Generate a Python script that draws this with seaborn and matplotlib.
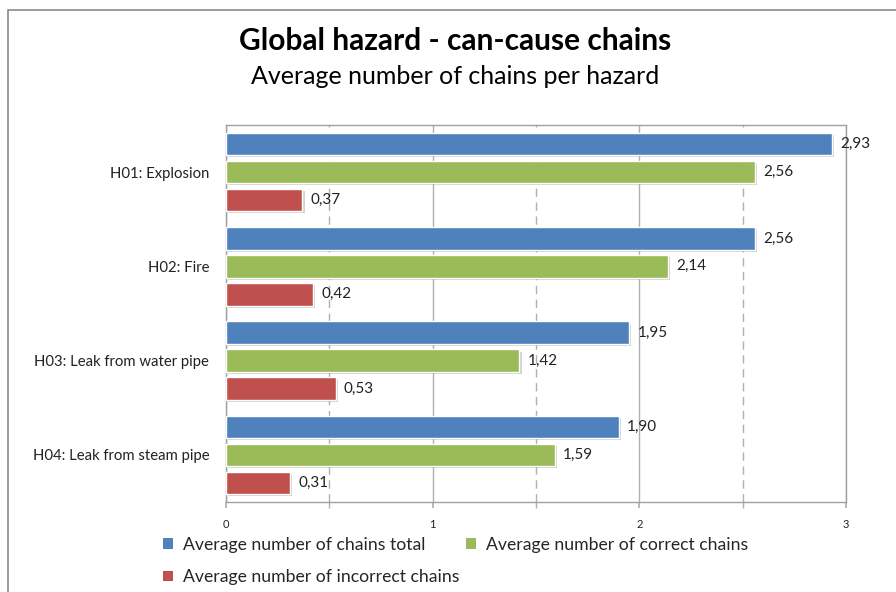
import matplotlib
matplotlib.use("Agg")
import matplotlib.pyplot as plt
import matplotlib.patheffects as pe
from matplotlib.patches import Patch, Rectangle
from matplotlib.ticker import MultipleLocator
import seaborn as sns
import pandas as pd

hazards = ["H01: Explosion", "H02: Fire", "H03: Leak from water pipe", "H04: Leak from steam pipe"]
series = ["Average number of chains total", "Average number of correct chains",
          "Average number of incorrect chains"]
total = [2.93, 2.56, 1.95, 1.90]
correct = [2.56, 2.14, 1.42, 1.59]
incorrect = [0.37, 0.42, 0.53, 0.31]
colors = ["#4F81BD", "#9BBB59", "#C0504D"]

rows = []
for name, vals in zip(series, [total, correct, incorrect]):
    for h, v in zip(hazards, vals):
        rows.append({"hazard": h, "series": name, "value": v})
df = pd.DataFrame(rows)

sns.set_theme(style="white")
plt.rcParams["font.family"] = ["Lato", "DejaVu Sans"]

fig = plt.figure(figsize=(8.96, 5.92), dpi=100)
ax = fig.add_axes([226 / 896, 1 - 502 / 592, 620 / 896, 377 / 592])

sns.barplot(data=df, y="hazard", x="value", hue="series", order=hazards,
            hue_order=series, palette=colors, orient="h", width=0.89, gap=0.2,
            saturation=1, legend=False, ax=ax,
            edgecolor="white", linewidth=1.0)

for p in ax.patches:
    p.set_path_effects([pe.SimplePatchShadow(offset=(1.5, -1.5), shadow_rgbFace="gray", alpha=0.35),
                        pe.Normal()])
    p.set_zorder(3)

for cont in ax.containers:
    ax.bar_label(cont, labels=[f"{v:.2f}".replace(".", ",") for v in cont.datavalues],
                 padding=6, fontsize=11, color="#222222")

ax.set_xlim(0, 3)
ax.xaxis.set_major_locator(MultipleLocator(1))
ax.xaxis.set_minor_locator(MultipleLocator(0.5))
ax.grid(axis="x", which="major", color="#b0b0b0", linewidth=1, linestyle="-", zorder=0)
ax.grid(axis="x", which="minor", color="#b0b0b0", linewidth=1, linestyle=(0, (6, 4)), zorder=0)
ax.set_axisbelow(True)
ax.tick_params(axis="x", which="both", bottom=True, length=4, color="#b0b0b0",
               labelsize=8, pad=8, labelcolor="#222222")
ax.tick_params(axis="x", which="minor", length=4)
ax.tick_params(axis="y", length=0, labelsize=10.7, pad=12, labelcolor="#222222")
ax.set_xlabel("")
ax.set_ylabel("")
for s in ax.spines.values():
    s.set_color("#a0a0a0")
    s.set_linewidth(1)
    s.set_visible(True)

fig.text(0.508, 1 - 41 / 592, "Global hazard - can-cause chains", ha="center", va="center",
         fontsize=21.5, fontweight="bold", color="black")
fig.text(0.508, 1 - 77 / 592, "Average number of chains per hazard", ha="center", va="center",
         fontsize=18, color="black")

order = [0, 2, 1]
handles = [Patch(facecolor=colors[i], edgecolor="none") for i in order]
labels = [series[i] for i in order]
fig.legend(handles, labels, ncol=2, loc="upper left", bbox_to_anchor=(163 / 896, 1 - 537 / 592),
           frameon=False, fontsize=12.7, handlelength=0.55, handleheight=0.55, handletextpad=0.6,
           columnspacing=0.35, labelspacing=0.92, borderaxespad=0, borderpad=0)

fig.add_artist(Rectangle((7.5 / 896, -0.1), 1.2, 1 - 10 / 592 + 0.1, transform=fig.transFigure,
                         fill=False, edgecolor="#8a8a8a", linewidth=1.2))

fig.savefig("out.png", dpi=100)
